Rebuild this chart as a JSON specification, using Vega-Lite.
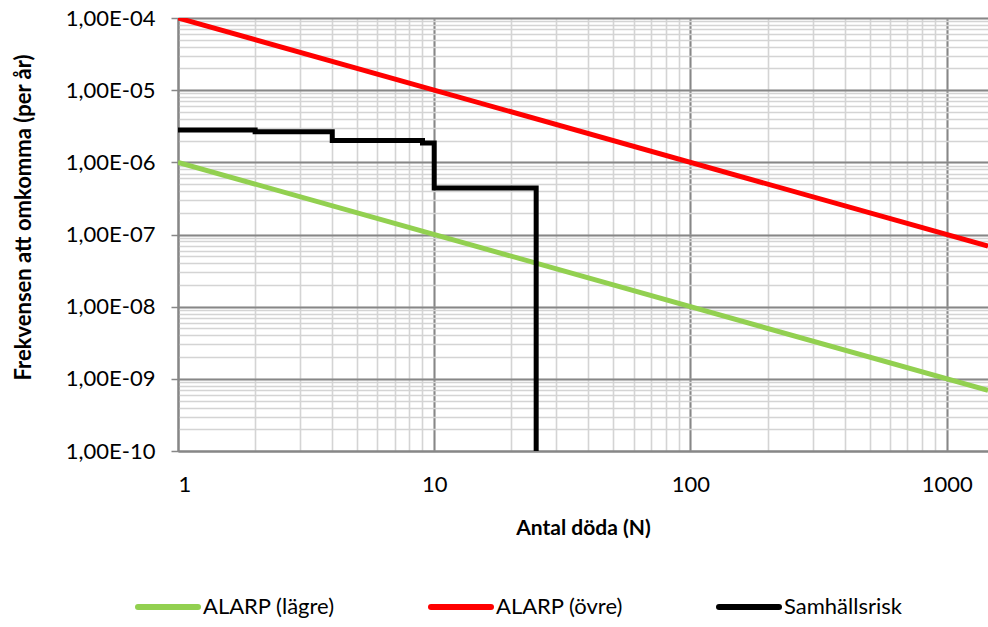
{
  "$schema": "https://vega.github.io/schema/vega-lite/v6.json",
  "width": 810,
  "height": 433,
  "autosize": {"type": "none"},
  "padding": {"left": 178, "top": 18, "right": 0, "bottom": 176},
  "background": "white",
  "config": {"font": "Lato", "view": {"stroke": null}},
  "data": {
    "values": [
      {"serie": "ALARP (lägre)", "N": 1, "F": 1e-6},
      {"serie": "ALARP (lägre)", "N": 1450, "F": 6.9e-10},
      {"serie": "ALARP (övre)", "N": 1, "F": 1e-4},
      {"serie": "ALARP (övre)", "N": 1450, "F": 6.9e-8},
      {"serie": "Samhällsrisk", "N": 1, "F": 2.8e-6},
      {"serie": "Samhällsrisk", "N": 2, "F": 2.65e-6},
      {"serie": "Samhällsrisk", "N": 4, "F": 2.0e-6},
      {"serie": "Samhällsrisk", "N": 9, "F": 1.85e-6},
      {"serie": "Samhällsrisk", "N": 10, "F": 4.4e-7},
      {"serie": "Samhällsrisk", "N": 25, "F": 1e-10}
    ]
  },
  "layer": [
    {
      "transform": [{"filter": "datum.serie !== 'Samhällsrisk'"}],
      "mark": {"type": "line", "strokeWidth": 5, "clip": true},
      "encoding": {
        "x": {
          "field": "N", "type": "quantitative",
          "scale": {"type": "log", "domain": [1, 1450], "nice": false},
          "axis": {
            "orient": "bottom", "title": null, "labels": false, "ticks": false, "domain": false,
            "grid": true, "gridColor": "#d4d4d4", "gridWidth": 1.6,
            "values": [1,2,3,4,5,6,7,8,9,10,20,30,40,50,60,70,80,90,100,200,300,400,500,600,700,800,900,1000]
          }
        },
        "y": {
          "field": "F", "type": "quantitative",
          "scale": {"type": "log", "domain": [1e-10, 1e-4], "nice": false},
          "axis": {
            "orient": "left", "title": null, "labels": false, "ticks": false, "domain": false,
            "grid": true, "gridColor": "#d4d4d4", "gridWidth": 1.6,
            "values": [1e-10,2e-10,3e-10,4e-10,5e-10,6e-10,7e-10,8e-10,9e-10,
                       1e-9,2e-9,3e-9,4e-9,5e-9,6e-9,7e-9,8e-9,9e-9,
                       1e-8,2e-8,3e-8,4e-8,5e-8,6e-8,7e-8,8e-8,9e-8,
                       1e-7,2e-7,3e-7,4e-7,5e-7,6e-7,7e-7,8e-7,9e-7,
                       1e-6,2e-6,3e-6,4e-6,5e-6,6e-6,7e-6,8e-6,9e-6,
                       1e-5,2e-5,3e-5,4e-5,5e-5,6e-5,7e-5,8e-5,9e-5,1e-4]
          }
        },
        "color": {
          "field": "serie", "type": "nominal",
          "scale": {"domain": ["ALARP (lägre)", "ALARP (övre)", "Samhällsrisk"], "range": ["#92D050", "#FF0000", "#000000"]},
          "legend": {
            "orient": "none", "legendX": -43, "legendY": 556, "direction": "horizontal", "title": null,
            "symbolType": "stroke", "symbolSize": 3600, "symbolStrokeWidth": 6,
            "labelFontSize": 22, "labelColor": "#000000", "labelOffset": 2, "columnPadding": 84, "labelLimit": 300,
            "encode": {"symbols": {"update": {"strokeWidth": {"value": 6}, "strokeCap": {"value": "round"}}}}
          }
        }
      }
    },
    {
      "transform": [{"filter": "datum.serie === 'Samhällsrisk'"}],
      "mark": {"type": "line", "interpolate": "step-after", "strokeWidth": 5, "clip": true},
      "encoding": {
        "x": {
          "field": "N", "type": "quantitative",
          "scale": {"type": "log", "domain": [1, 1450], "nice": false},
          "axis": {
            "orient": "bottom", "values": [1, 10, 100, 1000], "format": "d",
            "grid": true, "gridColor": "#878787", "gridWidth": 2,
            "ticks": false, "domainColor": "#878787", "domainWidth": 2,
            "labelFontSize": 22, "labelColor": "#000000", "labelPadding": 23,
            "title": "Antal döda (N)", "titleFontSize": 21, "titleFontWeight": "bold", "titleColor": "#000000", "titlePadding": 22
          }
        },
        "y": {
          "field": "F", "type": "quantitative",
          "scale": {"type": "log", "domain": [1e-10, 1e-4], "nice": false},
          "axis": {
            "orient": "left", "values": [1e-10, 1e-9, 1e-8, 1e-7, 1e-6, 1e-5, 1e-4],
            "labelExpr": "'1,00E-' + (round(-log(datum.value)/LN10) < 10 ? '0' : '') + round(-log(datum.value)/LN10)",
            "grid": true, "gridColor": "#878787", "gridWidth": 2,
            "tickSize": 7, "tickColor": "#878787", "tickWidth": 1.5,
            "domainColor": "#878787", "domainWidth": 2,
            "labelFontSize": 22, "labelColor": "#000000", "labelPadding": 16,
            "title": "Frekvensen att omkomma (per år)", "titleFontSize": 22, "titleFontWeight": "bold", "titleColor": "#000000", "titlePadding": 30,
            "titleY": 199
          }
        },
        "color": {
          "field": "serie", "type": "nominal",
          "scale": {"domain": ["ALARP (lägre)", "ALARP (övre)", "Samhällsrisk"], "range": ["#92D050", "#FF0000", "#000000"]}
        }
      }
    }
  ],
  "resolve": {"axis": {"x": "independent", "y": "independent"}}
}
